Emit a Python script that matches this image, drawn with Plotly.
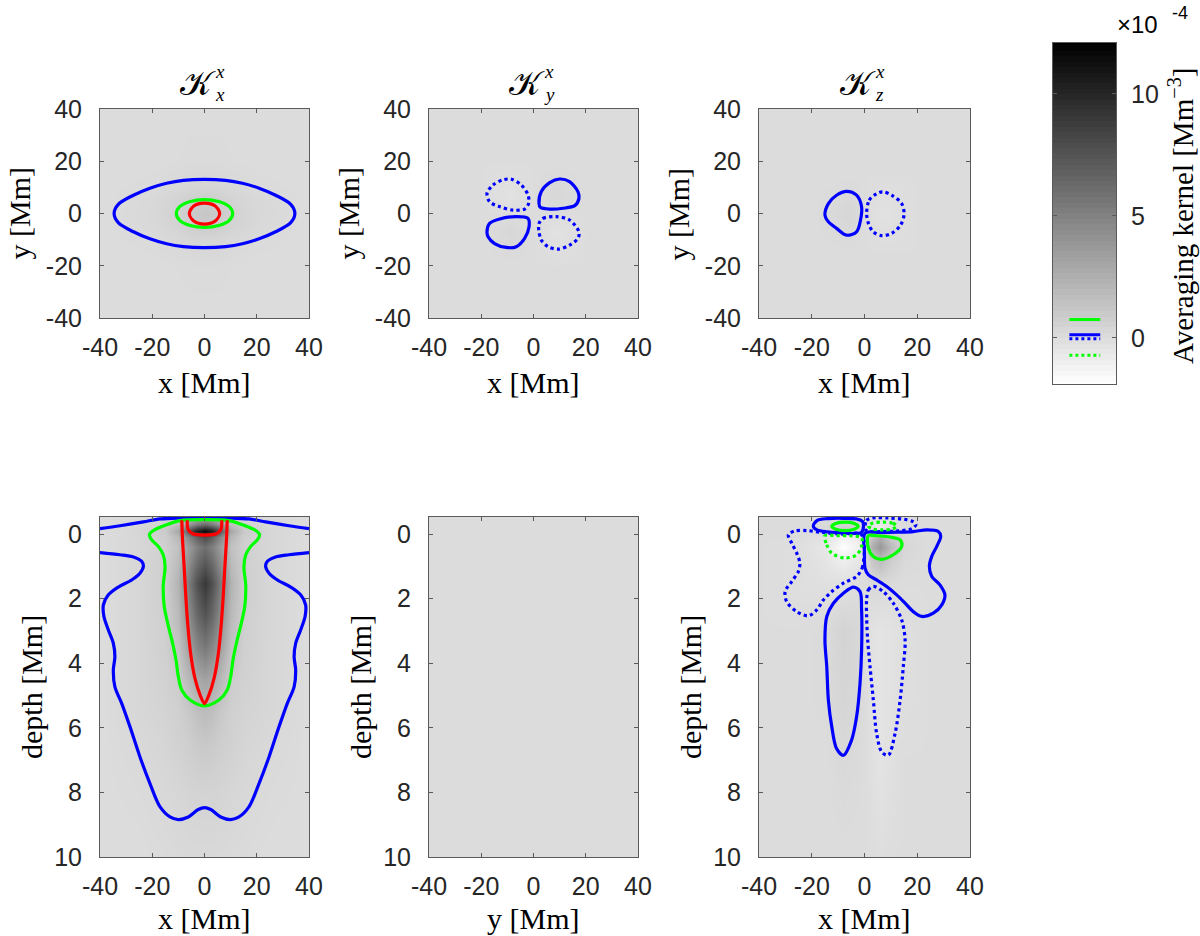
import numpy as np
import plotly.graph_objects as go

W, H = 1200, 936

# ---------------- data (kernel values in units of 1e-4 Mm^-3) ----------------
# top-left K_x^x horizontal slice
tl_x = [-40, -20, -10, -5, 0, 5, 10, 20, 40]
tl_y = [-40, -20, -10, -5, 0, 5, 10, 20, 40]
tl_z = [
    [0, 0, 0, 0, 0, 0, 0, 0, 0],
    [0, 0, 0.05, 0.1, 0.1, 0.1, 0.05, 0, 0],
    [0, 0.1, 0.25, 0.35, 0.4, 0.35, 0.25, 0.1, 0],
    [0, 0.2, 0.5, 0.8, 0.95, 0.8, 0.5, 0.2, 0],
    [0, 0.25, 0.6, 1.0, 1.2, 1.0, 0.6, 0.25, 0],
    [0, 0.2, 0.5, 0.8, 0.95, 0.8, 0.5, 0.2, 0],
    [0, 0.1, 0.25, 0.35, 0.4, 0.35, 0.25, 0.1, 0],
    [0, 0, 0.05, 0.1, 0.1, 0.1, 0.05, 0, 0],
    [0, 0, 0, 0, 0, 0, 0, 0, 0],
]
# top-middle K_y^x
tm_x = [-40, -20, -9, 0, 9, 20, 40]
tm_y = [-40, -20, -7, 0, 7, 20, 40]
tm_z = [
    [0, 0, 0, 0, 0, 0, 0],
    [0, 0, 0, 0, 0, 0, 0],
    [0, 0, 0.3, 0, -0.3, 0, 0],
    [0, 0, 0, 0, 0, 0, 0],
    [0, 0, -0.3, 0, 0.3, 0, 0],
    [0, 0, 0, 0, 0, 0, 0],
    [0, 0, 0, 0, 0, 0, 0],
]
# top-right K_z^x
tr_x = [-40, -20, -6, 0, 7, 20, 40]
tr_y = [-40, -15, 0, 15, 40]
tr_z = [
    [0, 0, 0, 0, 0, 0, 0],
    [0, 0, 0, 0, 0, 0, 0],
    [0, 0, 0.35, 0, -0.3, 0, 0],
    [0, 0, 0, 0, 0, 0, 0],
    [0, 0, 0, 0, 0, 0, 0],
]
# bottom-left K_x^x vertical slice
bl_x = [-40, -25, -15, -10, -6, -3, 0, 3, 6, 10, 15, 25, 40]
bl_d = [-0.53, -0.3, -0.1, 0.1, 0.4, 0.8, 1.5, 2.5, 3.5, 4.5, 5.5, 6.5, 8, 10]
bl_z = [
    [0, 0.1, 0.3, 0.75, 1.8, 2.55, 3.0, 2.55, 1.8, 0.75, 0.3, 0.1, 0],
    [0, 0.2, 0.6, 1.5, 3.6, 5.1, 6.0, 5.1, 3.6, 1.5, 0.6, 0.2, 0],
    [0, 0.35, 1.0, 2.9, 7.5, 10.3, 11.5, 10.3, 7.5, 2.9, 1.0, 0.35, 0],
    [0, 0.3, 0.8, 2.0, 4.8, 6.8, 8.0, 6.8, 4.8, 2.0, 0.8, 0.3, 0],
    [0, 0.3, 0.7, 1.5, 3.6, 5.1, 6.0, 5.1, 3.6, 1.5, 0.7, 0.3, 0],
    [0, 0.3, 0.75, 1.75, 4.2, 6.0, 7.0, 6.0, 4.2, 1.75, 0.75, 0.3, 0],
    [0, 0.3, 0.8, 2.25, 5.4, 7.65, 9.0, 7.65, 5.4, 2.25, 0.8, 0.3, 0],
    [0, 0.3, 0.75, 1.9, 4.5, 6.4, 7.5, 6.4, 4.5, 1.9, 0.75, 0.3, 0],
    [0, 0.3, 0.7, 1.4, 3.3, 4.7, 5.5, 4.7, 3.3, 1.4, 0.7, 0.3, 0],
    [0, 0.3, 0.6, 0.9, 2.0, 2.8, 3.2, 2.8, 2.0, 0.9, 0.6, 0.3, 0],
    [0, 0.3, 0.5, 0.7, 1.1, 1.6, 1.8, 1.6, 1.1, 0.7, 0.5, 0.3, 0],
    [0, 0.2, 0.4, 0.6, 0.8, 1.0, 1.1, 1.0, 0.8, 0.6, 0.4, 0.2, 0],
    [0, 0.1, 0.25, 0.35, 0.45, 0.5, 0.5, 0.5, 0.45, 0.35, 0.25, 0.1, 0],
    [0, 0, 0.1, 0.15, 0.2, 0.2, 0.2, 0.2, 0.2, 0.15, 0.1, 0, 0],
]
# bottom-middle K_y^x
bm_x = [-40, 40]
bm_d = [-0.53, 10]
bm_z = [[0, 0], [0, 0]]
# bottom-right K_z^x
br_x = [-40, -25, -15, -8, -3, 0, 3, 6, 10, 15, 25, 40]
br_d = [-0.53, -0.2, 0.1, 0.4, 0.8, 1.5, 3, 5, 7, 10]
br_z = [
    [0, 0, 0, 0.3, 0.3, 0, -0.3, -0.3, 0, 0, 0, 0],
    [0, 0, 0.2, 0.8, 0.5, 0, -0.5, -0.8, -0.3, 0, 0, 0],
    [0, 0, -0.3, -1.2, -0.8, 0, 1.5, 2.5, 1.0, 0.2, 0, 0],
    [0, -0.1, -0.6, -1.8, -1.2, 0, 2.5, 3.8, 1.8, 0.3, 0, 0],
    [0, -0.1, -0.4, -1.0, -0.6, 0, 1.2, 1.8, 0.8, 0.2, 0, 0],
    [0, -0.1, -0.2, -0.2, 0, 0, 0.2, 0.2, 0.1, 0, 0, 0],
    [0, 0, 0.1, 0.5, 0.3, 0, -0.3, -0.4, -0.3, -0.1, 0, 0],
    [0, 0, 0.1, 0.4, 0.3, 0, -0.3, -0.4, -0.3, -0.1, 0, 0],
    [0, 0, 0, 0.2, 0.1, 0, -0.2, -0.4, -0.2, 0, 0, 0],
    [0, 0, 0, 0, 0, 0, 0, -0.1, 0, 0, 0, 0],
]

# ---------------- contour lines ----------------
# top-left
tl_blue_x = [-34.6, -33.0, -27.2, -20.9, -14.5, -8.1, 0, 8.1, 14.5, 20.9, 27.2, 33.0, 34.6,
             33.0, 27.2, 20.9, 14.5, 8.1, 0, -8.1, -14.5, -20.9, -27.2, -33.0, -34.6]
tl_blue_y = [0, 3.5, 7.0, 9.7, 11.6, 12.7, 13.1, 12.7, 11.6, 9.7, 7.0, 3.5, 0,
             -3.5, -7.0, -9.7, -11.6, -12.7, -13.1, -12.7, -11.6, -9.7, -7.0, -3.5, 0]
tl_green_x = [10.8, 9.4, 5.4, 0, -5.4, -9.4, -10.8, -9.4, -5.4, 0, 5.4, 9.4, 10.8]
tl_green_y = [0, 2.7, 4.6, 5.3, 4.6, 2.7, 0, -2.7, -4.6, -5.3, -4.6, -2.7, 0]
tl_red_x = [5.8, 4.1, 0, -4.1, -5.8, -4.1, 0, 4.1, 5.8]
tl_red_y = [0, 2.9, 4.0, 2.9, 0, -2.9, -4.1, -2.9, 0]
# top-middle
tm_dot1_x = [-17.8, -15.5, -11.7, -8.5, -4.7, -2.1, -1.85, -3.4, -7.8, -12.9, -16.8, -17.8]
tm_dot1_y = [7.7, 10.9, 12.9, 13.1, 10.9, 7.1, 3.9, 1.7, 1.3, 2.6, 4.5, 7.7]
tm_sol1_x = [2.1, 3.0, 6.2, 10.0, 13.8, 17.0, 17.4, 15.8, 11.3, 6.2, 2.6, 2.1]
tm_sol1_y = [3.9, 8.4, 11.8, 13.2, 12.2, 8.4, 5.8, 3.0, 2.0, 1.7, 2.4, 3.9]
tm_sol2_x = [-17.8, -16.8, -12.9, -6.6, -2.1, -1.7, -3.4, -6.6, -10.4, -14.9, -17.4, -17.8]
tm_sol2_y = [-7.0, -3.8, -2.1, -1.2, -1.9, -5.1, -9.5, -12.7, -13.0, -11.5, -8.9, -7.0]
tm_dot2_x = [2.1, 3.6, 8.7, 13.8, 17.4, 17.0, 13.8, 9.4, 5.6, 3.0, 2.0, 2.1]
tm_dot2_y = [-3.8, -1.9, -1.2, -2.5, -7.0, -9.5, -12.1, -13.6, -12.7, -10.2, -6.3, -3.8]
# top-right
tr_sol_x = [-15.0, -13.7, -10.6, -6.8, -3.0, -1.1, -1.5, -3.0, -6.8, -10.6, -13.7, -15.0]
tr_sol_y = [-0.6, 3.8, 7.0, 8.5, 7.0, 2.5, -2.5, -7.0, -8.3, -5.7, -3.2, -0.6]
tr_dot_x = [0.8, 1.8, 4.6, 6.9, 10.3, 14.1, 15.0, 13.7, 10.3, 6.5, 3.3, 1.5, 0.8]
tr_dot_y = [0, 5.1, 7.6, 8.3, 7.0, 3.8, -0.3, -4.4, -7.6, -8.5, -7.0, -3.8, 0]
# bottom-left
bl_blue_top_x = [-40, -32.3, -23.4, -17.0, -9.4, 0, 9.4, 17.0, 23.4, 32.3, 40]
bl_blue_top_d = [-0.17, -0.26, -0.38, -0.47, -0.50, -0.51, -0.50, -0.47, -0.38, -0.26, -0.17]
bl_blue_x = [-40, -32.3, -27.2, -24.0, -23.4, -24.7, -27.9, -33.0, -36.8, -38.7, -38.5, -36.8,
             -34.9, -34.3, -34.9, -34.3, -31.7, -28.5, -24.7, -20.9, -17.0, -13.2, -10.0, -6.2,
             -2.4, 0,
             2.4, 6.2, 10.0, 13.2, 17.0, 20.9, 24.7, 28.5, 31.7, 34.3, 34.9, 34.3, 34.9, 36.8,
             38.5, 38.7, 36.8, 33.0, 27.9, 24.7, 23.4, 24.0, 27.2, 32.3, 40]
bl_blue_d = [0.57, 0.64, 0.71, 0.85, 1.0, 1.21, 1.42, 1.64, 1.88, 2.19, 2.55, 2.97,
             3.38, 3.80, 4.21, 4.73, 5.24, 5.97, 6.90, 7.72, 8.45, 8.76, 8.84, 8.76,
             8.53, 8.47,
             8.53, 8.76, 8.84, 8.76, 8.45, 7.72, 6.90, 5.97, 5.24, 4.73, 4.21, 3.80, 3.38, 2.97,
             2.55, 2.19, 1.88, 1.64, 1.42, 1.21, 1.0, 0.85, 0.71, 0.64, 0.57]
bl_green_x = [-9.4, -14.5, -19.6, -21.1, -20.2, -17.7, -15.8, -15.1, -15.8, -15.4, -13.8, -12.2,
              -10.9, -10.0, -8.7, -5.5, 0,
              5.5, 8.7, 10.0, 10.9, 12.2, 13.8, 15.4, 15.8, 15.1, 15.8, 17.7, 20.2, 21.1, 19.6,
              14.5, 9.4, 0, -9.4]
bl_green_d = [-0.42, -0.29, -0.11, 0.02, 0.18, 0.38, 0.64, 1.0, 1.62, 2.24, 2.86, 3.38,
              3.90, 4.42, 4.83, 5.14, 5.32,
              5.14, 4.83, 4.42, 3.90, 3.38, 2.86, 2.24, 1.62, 1.0, 0.64, 0.38, 0.18, 0.02, -0.11,
              -0.29, -0.42, -0.45, -0.42]
bl_red_x = [-8.7, -8.4, -7.8, -7.1, -6.4, -5.3, -3.7, -1.6, 0, 1.6, 3.7, 5.3, 6.4, 7.1, 7.8, 8.4, 8.7]
bl_red_d = [-0.43, 0.18, 1.0, 2.0, 2.8, 3.7, 4.45, 5.0, 5.25, 5.0, 4.45, 3.7, 2.8, 2.0, 1.0, 0.18, -0.43]
bl_red_in_x = [-6.6, -6.3, -4.5, 0, 4.5, 6.3, 6.6]
bl_red_in_d = [-0.43, -0.15, -0.01, 0.03, -0.01, -0.15, -0.43]
# bottom-right
br_b1_x = [-19.4, -18.0, -14.0, -8.0, -3.0, -0.8, -0.4, -1.2, -4.0, -9.0, -14.0, -18.0, -19.4]
br_b1_d = [-0.25, -0.42, -0.48, -0.49, -0.47, -0.40, -0.22, -0.05, -0.02, -0.04, -0.07, -0.13, -0.25]
br_g1_x = [-2.4, -3.9, -7.4, -10.9, -12.4, -10.9, -7.4, -3.9, -2.4]
br_g1_d = [-0.24, -0.33, -0.37, -0.33, -0.24, -0.15, -0.11, -0.15, -0.24]
br_bd1_x = [0.3, 0.8, 3.0, 9.0, 15.0, 18.5, 19.5, 18.0, 13.0, 7.0, 2.0, 0.3]
br_bd1_d = [-0.15, -0.42, -0.50, -0.50, -0.46, -0.38, -0.29, -0.17, -0.10, -0.08, -0.08, -0.15]
br_gd1_x = [12.2, 10.6, 6.8, 3.0, 1.4, 3.0, 6.8, 10.6, 12.2]
br_gd1_d = [-0.25, -0.34, -0.37, -0.34, -0.25, -0.16, -0.13, -0.16, -0.25]
br_gd2_x = [-15.0, -14.3, -12.4, -7.4, -3.0, -1.1, -1.1, -5.0, -10.0, -15.0]
br_gd2_d = [0.05, 0.33, 0.59, 0.74, 0.64, 0.38, 0.12, 0.05, 0.05, 0.05]
br_g2_x = [1.45, 1.45, 3.3, 6.5, 10.9, 14.1, 13.5, 9.7, 4.6, 1.45]
br_g2_d = [0.05, 0.43, 0.69, 0.78, 0.64, 0.38, 0.18, 0.09, 0.05, 0.05]
br_b2_x = [0.2, 5.9, 12.2, 18.5, 23.6, 28.0, 28.9, 27.4, 25.5, 24.6, 25.5, 28.6, 30.5, 29.3,
           26.1, 21.7, 18.5, 15.4, 12.2, 8.4, 4.6, 1.45, 0.2, 0.0, 0.2]
br_b2_d = [-0.03, -0.05, -0.06, -0.08, -0.13, -0.08, 0.07, 0.38, 0.69, 1.0, 1.31, 1.57, 1.88, 2.19,
           2.45, 2.55, 2.40, 2.14, 1.88, 1.62, 1.42, 1.26, 1.05, 0.59, -0.03]
br_bd2_x = [-1.1, -0.7, -3.0, -8.0, -12.4, -15.6, -18.1, -21.3, -25.7, -29.5, -30.1, -27.6, -25.1,
            -24.5, -25.7, -27.6, -28.9, -26.4, -21.9, -16.9, -9.3, -1.1]
br_bd2_d = [0.02, 1.0, 1.31, 1.52, 1.78, 2.04, 2.35, 2.53, 2.40, 2.09, 1.78, 1.47, 1.16,
            0.9, 0.59, 0.28, 0.02, -0.10, -0.11, -0.06, 0.0, 0.02]
br_b3_x = [-15.0, -14.3, -11.8, -8.0, -4.2, -1.7, -1.1, -1.1, -1.7, -3.0, -4.9, -8.0, -10.6,
           -12.4, -13.7, -14.3, -15.0]
br_b3_d = [3.28, 2.55, 2.14, 1.83, 1.64, 1.78, 2.35, 3.59, 4.62, 5.66, 6.38, 6.85, 6.64,
           5.97, 5.14, 4.11, 3.28]
br_bd3_x = [0.8, 1.45, 3.35, 7.1, 10.9, 14.1, 15.4, 14.7, 13.5, 11.6, 9.0, 6.5, 4.6, 3.35, 2.1, 1.2, 0.8, 0.8]
br_bd3_d = [2.04, 1.73, 1.62, 1.78, 2.14, 2.66, 3.28, 4.11, 5.14, 6.17, 6.85, 6.74, 6.17, 5.14, 4.11, 3.28, 2.55, 2.04]

# ticks
xy_tickvals = [-40, -20, 0, 20, 40]
xy_ticktext = ["-40", "-20", "0", "20", "40"]
depth_tickvals = [0, 2, 4, 6, 8, 10]
depth_ticktext = ["0", "2", "4", "6", "8", "10"]

# colorbar
cb_min, cb_max = -1.9, 12.1
cb_ticks = [0, 5, 10]
legend_levels = {"green": 0.76, "blue": 0.0, "green_neg": -0.71}

# ---------------- figure ----------------
GRAY = [[0, "#ffffff"], [1, "#000000"]]
BLUE, GREEN, RED = "#0000ff", "#00ff00", "#ff0000"
AXC = "#262626"
TICKFONT = dict(family="Liberation Sans, Arial, sans-serif", size=25, color=AXC)
SERIF = "Liberation Serif, Times New Roman, serif"

fig = go.Figure()

def hm(x, y, z, ax):
    fig.add_trace(go.Heatmap(x=x, y=y, z=z, zmin=cb_min, zmax=cb_max, colorscale=GRAY,
                             showscale=False, zsmooth="best", xaxis="x" + ax, yaxis="y" + ax,
                             hoverinfo="skip"))

def ln(x, y, ax, color, dot=False, w=3.2):
    fig.add_trace(go.Scatter(x=x, y=y, mode="lines", xaxis="x" + ax, yaxis="y" + ax,
                             line=dict(color=color, width=w, dash="dot" if dot else "solid",
                                       shape="spline", smoothing=0.9),
                             showlegend=False, hoverinfo="skip"))

hm(tl_x, tl_y, tl_z, "")
hm(tm_x, tm_y, tm_z, "2")
hm(tr_x, tr_y, tr_z, "3")
hm(bl_x, bl_d, bl_z, "4")
hm(bm_x, bm_d, bm_z, "5")
hm(br_x, br_d, br_z, "6")

ln(tl_blue_x, tl_blue_y, "", BLUE)
ln(tl_green_x, tl_green_y, "", GREEN)
ln(tl_red_x, tl_red_y, "", RED)

ln(tm_dot1_x, tm_dot1_y, "2", BLUE, dot=True)
ln(tm_sol1_x, tm_sol1_y, "2", BLUE)
ln(tm_sol2_x, tm_sol2_y, "2", BLUE)
ln(tm_dot2_x, tm_dot2_y, "2", BLUE, dot=True)

ln(tr_sol_x, tr_sol_y, "3", BLUE)
ln(tr_dot_x, tr_dot_y, "3", BLUE, dot=True)

ln(bl_blue_top_x, bl_blue_top_d, "4", BLUE)
ln(bl_blue_x, bl_blue_d, "4", BLUE)
ln(bl_green_x, bl_green_d, "4", GREEN)
ln(bl_red_x, bl_red_d, "4", RED)
ln(bl_red_in_x, bl_red_in_d, "4", RED)

ln(br_bd2_x, br_bd2_d, "6", BLUE, dot=True)
ln(br_bd3_x, br_bd3_d, "6", BLUE, dot=True)
ln(br_bd1_x, br_bd1_d, "6", BLUE, dot=True)
ln(br_b1_x, br_b1_d, "6", BLUE)
ln(br_b2_x, br_b2_d, "6", BLUE)
ln(br_b3_x, br_b3_d, "6", BLUE)
ln(br_gd1_x, br_gd1_d, "6", GREEN, dot=True)
ln(br_gd2_x, br_gd2_d, "6", GREEN, dot=True)
ln(br_g1_x, br_g1_d, "6", GREEN)
ln(br_g2_x, br_g2_d, "6", GREEN)

# colorbar as its own axis (64-level gray map)
cb_vals = np.linspace(cb_min, cb_max, 64)
fig.add_trace(go.Heatmap(x=[0, 1], y=cb_vals, z=[[v, v] for v in cb_vals], zmin=cb_min,
                         zmax=cb_max, colorscale=GRAY, showscale=False, xaxis="x7",
                         yaxis="y7", hoverinfo="skip"))
for key, color, dot, off in [("green", GREEN, False, 0.0), ("blue", BLUE, False, 0.13),
                             ("blue", BLUE, True, -0.03), ("green_neg", GREEN, True, 0.0)]:
    lv = legend_levels[key] + off
    fig.add_trace(go.Scatter(x=[0.26, 0.75], y=[lv, lv], mode="lines", xaxis="x7", yaxis="y7",
                             line=dict(color=color, width=3, dash="dot" if dot else "solid"),
                             showlegend=False, hoverinfo="skip"))

# ---------------- axes ----------------
def fx(p):
    return p / W

def fy(p):
    return 1 - p / H

cols = [(100, 309), (429, 638), (759, 970)]
top_rows = (109, 318)
bot_rows = (517, 857)

layout = dict(width=W, height=H, margin=dict(l=0, r=0, t=0, b=0, pad=0, autoexpand=False),
              paper_bgcolor="white", plot_bgcolor="white", showlegend=False)

common = dict(showline=True, linecolor="#5a5a5a", linewidth=1, mirror="allticks",
              ticks="inside", ticklen=4, tickcolor="#5a5a5a", tickwidth=1,
              showgrid=False, zeroline=False, tickfont=TICKFONT, automargin=False)

names = ["", "2", "3", "4", "5", "6"]
for i, nm in enumerate(names):
    c = cols[i % 3]
    r = top_rows if i < 3 else bot_rows
    xa = dict(common, domain=[fx(c[0]), fx(c[1])], range=[-40, 40],
              tickvals=xy_tickvals, ticktext=xy_ticktext, anchor="y" + nm, ticklabelstandoff=7)
    if i < 3:
        ya = dict(common, domain=[fy(r[1]), fy(r[0])], range=[-40, 40],
                  tickvals=xy_tickvals, ticktext=xy_ticktext, anchor="x" + nm,
                  ticklabelstandoff=12)
    else:
        ya = dict(common, domain=[fy(r[1]), fy(r[0])], range=[10, -0.53],
                  tickvals=depth_tickvals, ticktext=depth_ticktext, anchor="x" + nm,
                  ticklabelstandoff=12)
    layout["xaxis" + nm] = xa
    layout["yaxis" + nm] = ya

layout["xaxis7"] = dict(domain=[fx(1053), fx(1116)], range=[0, 1], showticklabels=False,
                        ticks="", showline=True, mirror=True, linecolor="#5a5a5a",
                        showgrid=False, zeroline=False, anchor="y7", automargin=False)
layout["yaxis7"] = dict(domain=[fy(384.3), fy(42.7)], range=[cb_min, cb_max],
                        tickvals=cb_ticks, side="right", ticks="inside", ticklen=4,
                        tickcolor="#5a5a5a", showline=True, mirror="ticks", linecolor="#5a5a5a",
                        showgrid=False, zeroline=False, tickfont=TICKFONT, anchor="x7",
                        ticklabelstandoff=9, automargin=False)

fig.update_layout(**layout)

# ---------------- text ----------------
ann = []

def text(x, y, s, size=30, family=SERIF, angle=0, xanchor="center", yanchor="middle"):
    ann.append(dict(x=fx(x), y=fy(y), xref="paper", yref="paper", text=s, showarrow=False,
                    font=dict(family=family, size=size, color="#000000"), textangle=angle,
                    xanchor=xanchor, yanchor=yanchor, borderpad=0))

subs = ["x", "y", "z"]
for i, c in enumerate(cols):
    cx = (c[0] + c[1]) / 2
    text(cx - 7, 83, "𝒦", size=34, family="DejaVu Serif, Liberation Serif, serif")
    text(cx + 9, 72, "<i>x</i>", size=19, xanchor="left")
    text(cx + 9, 95, "<i>%s</i>" % subs[i], size=19, xanchor="left")

xlabels_top = ["x [Mm]", "x [Mm]", "x [Mm]"]
xlabels_bot = ["x [Mm]", "y [Mm]", "x [Mm]"]
for i, c in enumerate(cols):
    cx = (c[0] + c[1]) / 2
    text(cx, 382, xlabels_top[i])
    text(cx, 918, xlabels_bot[i])
    text(c[0] - 81, (top_rows[0] + top_rows[1]) / 2, "y [Mm]", angle=-90)
    text(c[0] - 69, (bot_rows[0] + bot_rows[1]) / 2, "depth [Mm]", angle=-90)

text(1181, 216, "Averaging kernel [Mm<sup>−3</sup>]", size=29, angle=-90)
text(1116, 24, "×10", size=24, family="Liberation Sans, Arial, sans-serif", xanchor="left")
text(1171, 13, "-4", size=18, family="Liberation Sans, Arial, sans-serif", xanchor="left")

fig.update_layout(annotations=ann)
# no mode bar; remove the default 8px page margin so the figure fills the window exactly
fig.write_html("out.html", config={"displayModeBar": False, "staticPlot": True},
               post_script="document.body.style.margin='0px';document.body.style.overflow='hidden';")
